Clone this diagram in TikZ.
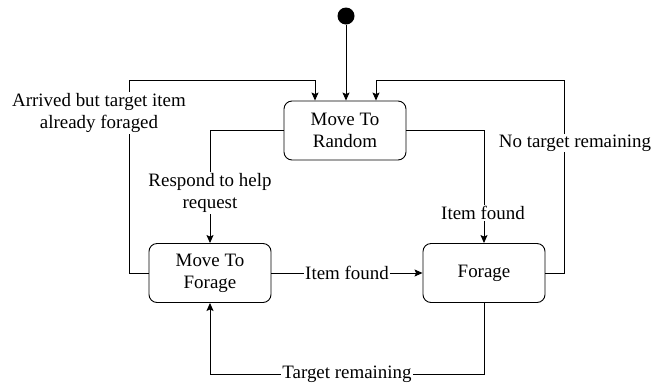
\documentclass[tikz,border=0pt]{standalone}
\usepackage{fontspec}
\setmainfont{Liberation Serif}
\usetikzlibrary{arrows.meta,positioning,calc}

\begin{document}
\begin{tikzpicture}[x=1bp,y=-1bp,
  state/.style={draw, rounded corners=8bp, line width=0.9bp, minimum width=122bp,
    minimum height=59bp, align=center, font=\fontsize{19}{22}\selectfont},
  arr/.style={line width=0.9bp, -{Stealth[length=8bp,width=7bp,inset=1.5bp]}},
  lbl/.style={fill=white, inner sep=1bp, align=center, font=\fontsize{19}{22}\selectfont}]
\useasboundingbox (0,0) rectangle (662,383);

% States
\node[circle, fill=black, minimum size=17bp, inner sep=0] (start) at (346,16) {};
\node[state] (rand) at (345,130.5) {Move To\\Random};
\node[state] (mtf) at (210,273) {Move To\\Forage};
\node[state] (forage) at (484,273) {Forage};

% Corners of the outer loops
\coordinate (lt) at (129,80);
\coordinate (rt) at (564,80);
\coordinate (bt) at (484,374);

% Transitions
\draw[arr] (start) -- (start |- rand.north);
\draw[arr] (rand.west) -| (mtf.north);
\draw[arr] (rand.east) -| (forage.north);
\draw[arr] (mtf) -- node[lbl] {Item found} (forage);
\draw[arr] (mtf.west) -| (lt) -| ([xshift=-30bp]rand.north);
\draw[arr] (forage.east) -| (rt) -| ([xshift=31bp]rand.north);
\draw[arr] (forage.south) -- (bt) -| node[lbl, pos=0.25] {Target remaining} (mtf.south);

% Labels
\node[lbl] at (210,193) {Respond to help\\request};
\node[lbl] at (483,213) {Item found};
\node[lbl] at (99,113) {Arrived but target item\\already foraged};
\node[lbl] at (575,143) {No target remaining};
\end{tikzpicture}
\end{document}
